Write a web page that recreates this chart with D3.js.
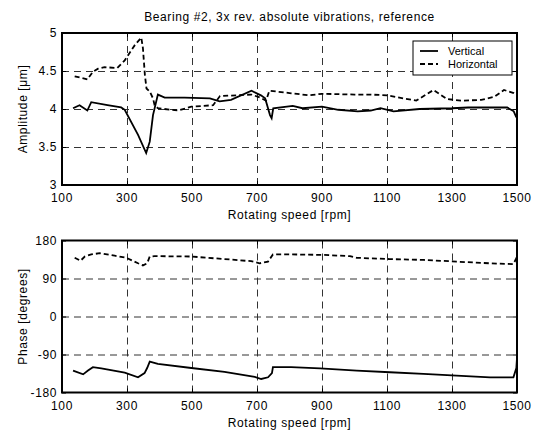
<!DOCTYPE html>
<html lang="en">
<head>
    <meta charset="UTF-8">
    <title>Bearing #2 vibrations</title>
    <script src="https://d3js.org/d3.v7.min.js"></script>
    <style>
        body {
            margin: 0;
            background: #fff;
        }
        svg text {
            font-family: Arial, "Liberation Sans", sans-serif;
            font-size: 12px;
            letter-spacing: 0.6px;
            fill: #000;
        }
        svg text.legend-text {
            font-size: 11px;
            letter-spacing: 0;
        }
        .grid line {
            stroke: #333;
            stroke-width: 1;
            stroke-dasharray: 7, 5;
        }
        .grid path {
            display: none;
        }
        .ticks line {
            stroke: #000;
        }
        .ticks path {
            display: none;
        }
    </style>
</head>
<body>
<svg id="chart" width="536" height="430"></svg>

<script>
    const speedTicks = [100, 300, 500, 700, 900, 1100, 1300, 1500];
    const ampTicks = [3, 3.5, 4, 4.5, 5];
    const phaseTicks = [-180, -90, 0, 90, 180];

    // [rpm, amplitude µm]
    const ampVertical = [
        [134, 4.01], [154, 4.05], [178, 3.98], [190, 4.09], [240, 4.05], [282, 4.02],
        [293, 3.99], [334, 3.66], [359, 3.42], [370, 3.57], [380, 3.92], [395, 4.19],
        [416, 4.15], [477, 4.15], [555, 4.14], [585, 4.10], [620, 4.12], [683, 4.24],
        [712, 4.18], [725, 4.14], [740, 3.92], [745, 3.88], [750, 4.01], [810, 4.04],
        [840, 4.01], [900, 4.03], [950, 3.99], [1010, 3.97], [1050, 3.98], [1080, 4.01],
        [1120, 3.97], [1200, 4.00], [1300, 4.01], [1350, 4.02], [1470, 4.02], [1490, 3.97],
        [1497, 3.90], [1500, 3.88]
    ];
    const ampHorizontal = [
        [139, 4.43], [159, 4.41], [178, 4.39], [195, 4.49], [211, 4.53], [231, 4.55],
        [270, 4.54], [293, 4.64], [324, 4.84], [344, 4.94], [349, 4.80], [355, 4.45],
        [360, 4.27], [370, 4.23], [380, 4.14], [385, 4.05], [395, 4.01], [436, 3.99],
        [457, 3.98], [498, 4.03], [565, 4.05], [586, 4.17], [683, 4.19], [710, 4.15],
        [728, 4.11], [738, 4.24], [800, 4.21], [860, 4.18], [900, 4.20], [1000, 4.19],
        [1050, 4.19], [1100, 4.18], [1150, 4.14], [1190, 4.11], [1243, 4.25], [1285, 4.13],
        [1330, 4.11], [1390, 4.12], [1430, 4.16], [1460, 4.25], [1490, 4.21], [1500, 4.18]
    ];
    // [rpm, phase deg]
    const phaseVertical = [
        [134, -128], [165, -137], [180, -128], [195, -120], [221, -123], [293, -133],
        [334, -144], [354, -134], [362, -122], [370, -107], [395, -112], [498, -122],
        [600, -131], [693, -143], [713, -148], [734, -144], [746, -134], [749, -120],
        [805, -120], [894, -123], [1007, -128], [1109, -132], [1212, -136], [1314, -140],
        [1417, -144], [1489, -144], [1498, -122], [1500, -98]
    ];
    const phaseHorizontal = [
        [139, 139], [157, 132], [170, 142], [190, 147], [216, 150], [262, 144],
        [298, 139], [334, 126], [349, 121], [362, 126], [370, 142], [385, 143],
        [498, 142], [600, 136], [682, 131], [708, 126], [734, 130], [749, 147],
        [805, 147], [900, 146], [986, 143], [1007, 139], [1109, 136], [1212, 134],
        [1314, 130], [1417, 126], [1489, 124], [1498, 138], [1500, 150]
    ];

    const svg = d3.select("#chart");
    const left = 62, right = 517;
    const panels = [
        { top: 33, bottom: 185, domain: [3, 5], ticks: ampTicks, label: "Amplitude [μm]",
          series: [ampVertical, ampHorizontal] },
        { top: 240.5, bottom: 392.5, domain: [-180, 180], ticks: phaseTicks, label: "Phase [degrees]",
          series: [phaseVertical, phaseHorizontal] }
    ];

    const x = d3.scaleLinear().domain([100, 1500]).range([left, right]);

    svg.append("text")
        .attr("x", (left + right) / 2)
        .attr("y", 21)
        .attr("text-anchor", "middle")
        .text("Bearing #2, 3x rev. absolute vibrations, reference");

    panels.forEach(p => {
        const y = d3.scaleLinear().domain(p.domain).range([p.bottom, p.top]);
        const h = p.bottom - p.top;
        const g = svg.append("g");

        // dashed grid
        g.append("g").attr("class", "grid")
            .attr("transform", `translate(0,${p.bottom})`)
            .call(d3.axisBottom(x).tickValues(speedTicks.slice(1, -1)).tickSize(-h).tickFormat(""));
        g.append("g").attr("class", "grid")
            .attr("transform", `translate(${left},0)`)
            .call(d3.axisLeft(y).tickValues(p.ticks.slice(1, -1)).tickSize(-(right - left)).tickFormat(""));

        // inward tick marks on all sides
        g.append("g").attr("class", "ticks")
            .attr("transform", `translate(0,${p.bottom})`)
            .call(d3.axisBottom(x).tickValues(speedTicks).tickSize(-4).tickFormat(""));
        g.append("g").attr("class", "ticks")
            .attr("transform", `translate(0,${p.top})`)
            .call(d3.axisTop(x).tickValues(speedTicks).tickSize(-4).tickFormat(""));
        g.append("g").attr("class", "ticks")
            .attr("transform", `translate(${left},0)`)
            .call(d3.axisLeft(y).tickValues(p.ticks).tickSize(-4).tickFormat(""));
        g.append("g").attr("class", "ticks")
            .attr("transform", `translate(${right},0)`)
            .call(d3.axisRight(y).tickValues(p.ticks).tickSize(-4).tickFormat(""));

        // tick labels
        g.selectAll(".xl").data(speedTicks).enter().append("text")
            .attr("x", d => x(d))
            .attr("y", p.bottom + 17)
            .attr("text-anchor", "middle")
            .text(d => d);
        g.selectAll(".yl").data(p.ticks).enter().append("text")
            .attr("x", left - 5)
            .attr("y", d => y(d) + 4)
            .attr("text-anchor", "end")
            .text(d => d);

        g.append("text")
            .attr("x", (left + right) / 2)
            .attr("y", p.bottom + 34)
            .attr("text-anchor", "middle")
            .text("Rotating speed [rpm]");
        g.append("text")
            .attr("transform", `translate(27,${(p.top + p.bottom) / 2}) rotate(-90)`)
            .attr("text-anchor", "middle")
            .text(p.label);

        const line = d3.line().x(d => x(d[0])).y(d => y(d[1]));
        g.append("path")
            .attr("d", line(p.series[0]))
            .attr("fill", "none")
            .attr("stroke", "#000")
            .attr("stroke-width", 1.8);
        g.append("path")
            .attr("d", line(p.series[1]))
            .attr("fill", "none")
            .attr("stroke", "#000")
            .attr("stroke-width", 1.8)
            .attr("stroke-dasharray", "5,3");

        g.append("rect")
            .attr("x", left).attr("y", p.top)
            .attr("width", right - left).attr("height", h)
            .attr("fill", "none")
            .attr("stroke", "#000")
            .attr("stroke-width", 2);
    });

    // legend
    const legend = svg.append("g").attr("transform", "translate(413,41)");
    legend.append("rect")
        .attr("width", 99).attr("height", 34)
        .attr("fill", "#fff").attr("stroke", "#000").attr("stroke-width", 1);
    const entries = [["Vertical", null], ["Horizontal", "5,3"]];
    entries.forEach((e, i) => {
        const ly = 10 + i * 13;
        legend.append("line")
            .attr("x1", 7).attr("x2", 25)
            .attr("y1", ly).attr("y2", ly)
            .attr("stroke", "#000").attr("stroke-width", 1.8)
            .attr("stroke-dasharray", e[1]);
        legend.append("text")
            .attr("class", "legend-text")
            .attr("x", 35).attr("y", ly + 4)
            .text(e[0]);
    });
</script>
</body>
</html>
